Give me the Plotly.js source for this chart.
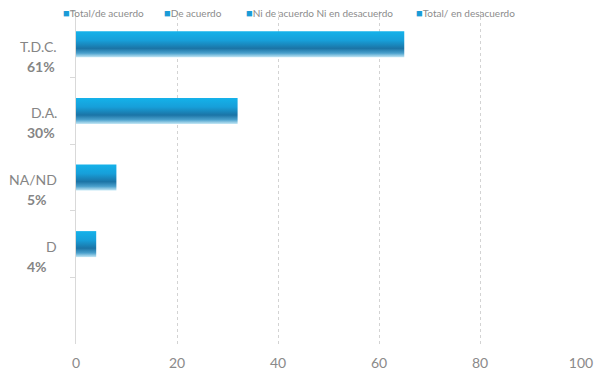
<!DOCTYPE html>
<html>
<head>
<meta charset="utf-8">
<script src="https://cdn.plot.ly/plotly-3.0.1.min.js"></script>
<style>
  html, body { margin: 0; padding: 0; background: #ffffff; }
  #chart { width: 595px; height: 375px; }
</style>
</head>
<body>
<div id="chart"></div>
<script>
// ---- Data ----
const categories = ['T.D.C.', 'D.A.', 'NA/ND', 'D'];
const percentLabels = ['61%', '30%', '5%', '4%'];
const values = [65, 32, 8, 4];
const seriesNames = ['Total/de acuerdo', 'De acuerdo', 'Ni de acuerdo Ni en desacuerdo', 'Total/ en desacuerdo'];
const xTickValues = [0, 20, 40, 60, 80, 100];

// ---- Styles ----
const barColor = '#1a9bd7';
const textGray = '#858585';
const fontFamily = 'Lato, "Open Sans", sans-serif';
const legendX = [-0.03, 0.17, 0.333, 0.67];

const traces = categories.map((cat, i) => ({
  type: 'bar',
  orientation: 'h',
  y: [cat],
  x: [values[i]],
  name: seriesNames[i],
  width: 0.39,
  marker: { color: barColor, line: { width: 0 } },
  hoverinfo: 'x+y'
}));

const annotations = [];
categories.forEach((cat, i) => {
  annotations.push({
    xref: 'paper', yref: 'y', x: -0.034, y: cat,
    xanchor: 'right', yanchor: 'middle', yshift: -2,
    text: cat, showarrow: false,
    font: { family: fontFamily, size: 14, color: textGray }
  });
  annotations.push({
    xref: 'paper', yref: 'y', x: -0.101, y: cat,
    xanchor: 'left', yanchor: 'middle', yshift: -22,
    text: '<b>' + percentLabels[i] + '</b>', showarrow: false,
    font: { family: fontFamily, size: 14, color: textGray }
  });
});
// Legend row (drawn as text so it sits over the top of the plot like the original)
seriesNames.forEach((name, i) => {
  annotations.push({
    xref: 'paper', yref: 'paper', x: legendX[i], y: 0.994,
    xanchor: 'left', yanchor: 'middle',
    text: '<span style="color:' + barColor + ';font-size:11px">■</span>' + name,
    showarrow: false, bgcolor: 'rgba(255,255,255,0)',
    font: { family: fontFamily, size: 10, color: '#8c8c8c' }
  });
});

const layout = {
  width: 595,
  height: 375,
  margin: { l: 76, r: 14, t: 11, b: 31 },
  paper_bgcolor: '#ffffff',
  plot_bgcolor: '#ffffff',
  barmode: 'overlay',
  showlegend: false,
  xaxis: {
    range: [0, 100],
    tickvals: xTickValues,
    ticktext: xTickValues.map(String),
    showgrid: true,
    gridcolor: '#d3d3d3',
    griddash: '3px,3px',
    gridwidth: 1,
    zeroline: false,
    showline: false,
    ticks: '',
    ticklabelstandoff: 9,
    tickfont: { family: fontFamily, size: 14, color: '#8a8a8a' },
    fixedrange: true
  },
  yaxis: {
    type: 'category',
    categoryorder: 'array',
    categoryarray: categories.concat([' ']),
    range: [4.5, -0.5],
    showticklabels: false,
    showgrid: false,
    zeroline: false,
    showline: true,
    linecolor: '#d9d9d9',
    linewidth: 1,
    ticks: 'outside',
    tickson: 'boundaries',
    ticklen: 5,
    tickcolor: '#d9d9d9',
    fixedrange: true
  },
  annotations: annotations
};

Plotly.newPlot('chart', traces, layout, { displayModeBar: false, staticPlot: true }).then(() => {
  // Apply the vertical gradient fill seen on the bars
  const svg = document.querySelector('#chart .main-svg');
  const ns = 'http://www.w3.org/2000/svg';
  let defs = svg.querySelector('defs');
  if (!defs) { defs = document.createElementNS(ns, 'defs'); svg.insertBefore(defs, svg.firstChild); }
  const grad = document.createElementNS(ns, 'linearGradient');
  grad.setAttribute('id', 'barGrad');
  grad.setAttribute('x1', '0'); grad.setAttribute('y1', '0');
  grad.setAttribute('x2', '0'); grad.setAttribute('y2', '1');
  [['0%', '#14b2ea'], ['35%', '#179fd9'], ['66%', '#1b74a6'], ['84%', '#4aa0cc'], ['100%', '#c3e7f5']].forEach(([o, c]) => {
    const s = document.createElementNS(ns, 'stop');
    s.setAttribute('offset', o); s.setAttribute('stop-color', c);
    grad.appendChild(s);
  });
  defs.appendChild(grad);
  document.querySelectorAll('#chart .barlayer .point path').forEach(p => {
    p.style.fill = 'url(#barGrad)';
  });
});
</script>
</body>
</html>
